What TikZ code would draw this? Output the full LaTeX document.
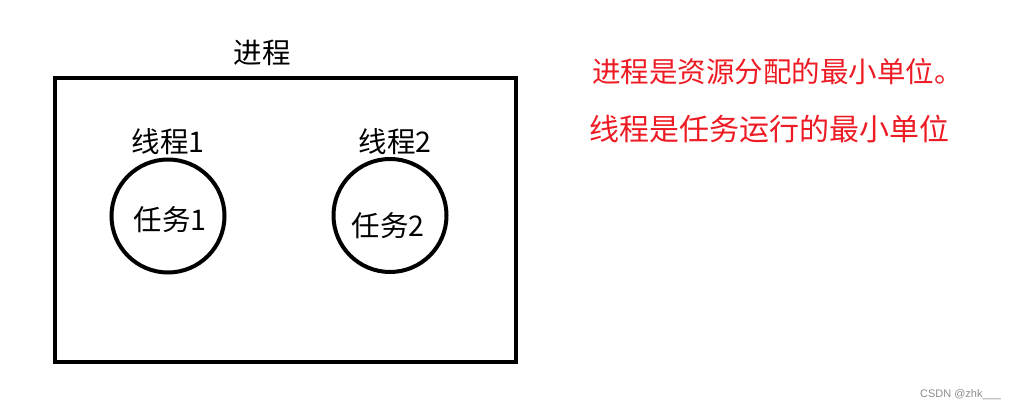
\documentclass[tikz,border=0pt]{standalone}
\usepackage{fontspec}
\setmainfont{Noto Sans CJK SC}
\newfontfamily\wmfont{Liberation Sans}
\definecolor{paintred}{RGB}{237,28,36}
\begin{document}
\begin{tikzpicture}[x=1pt,y=-1pt,
  lbl/.style={inner sep=0pt, font=\fontsize{28.5}{30}\selectfont},
  redlbl/.style={inner sep=0pt, anchor=west, text=paintred},
  thread/.style={draw, line width=4pt, circle, minimum size=113pt, inner sep=0pt}]
\useasboundingbox (0,0) rectangle (1015,411);
\node[draw, line width=4pt, minimum width=461pt, minimum height=284pt, inner sep=0pt] (proc) at (285.5,220) {};
\node[lbl] (proclbl) at (262,53) {进程};
\node[thread] (c1) at (168,216) {};
\node[thread] (c2) at (390,215.5) {};
\node[lbl] (t1) at (168,142) {线程1};
\node[lbl] (t2) at (395,142) {线程2};
\node[lbl] (r1) at (170,219.5) {任务1};
\node[lbl] (r2) at (388,225.5) {任务2};
\node[redlbl, font=\fontsize{28.5}{30}\selectfont] (n1) at (592,72) {进程是资源分配的最小单位。};
\node[redlbl, font=\fontsize{30}{32}\selectfont] (n2) at (589,129) {线程是任务运行的最小单位};
\node[inner sep=0pt, text=black!45, font=\wmfont\fontsize{11}{12}\selectfont] (wm) at (960.5,395) {CSDN @zhk\_\_\_};
\end{tikzpicture}
\end{document}
